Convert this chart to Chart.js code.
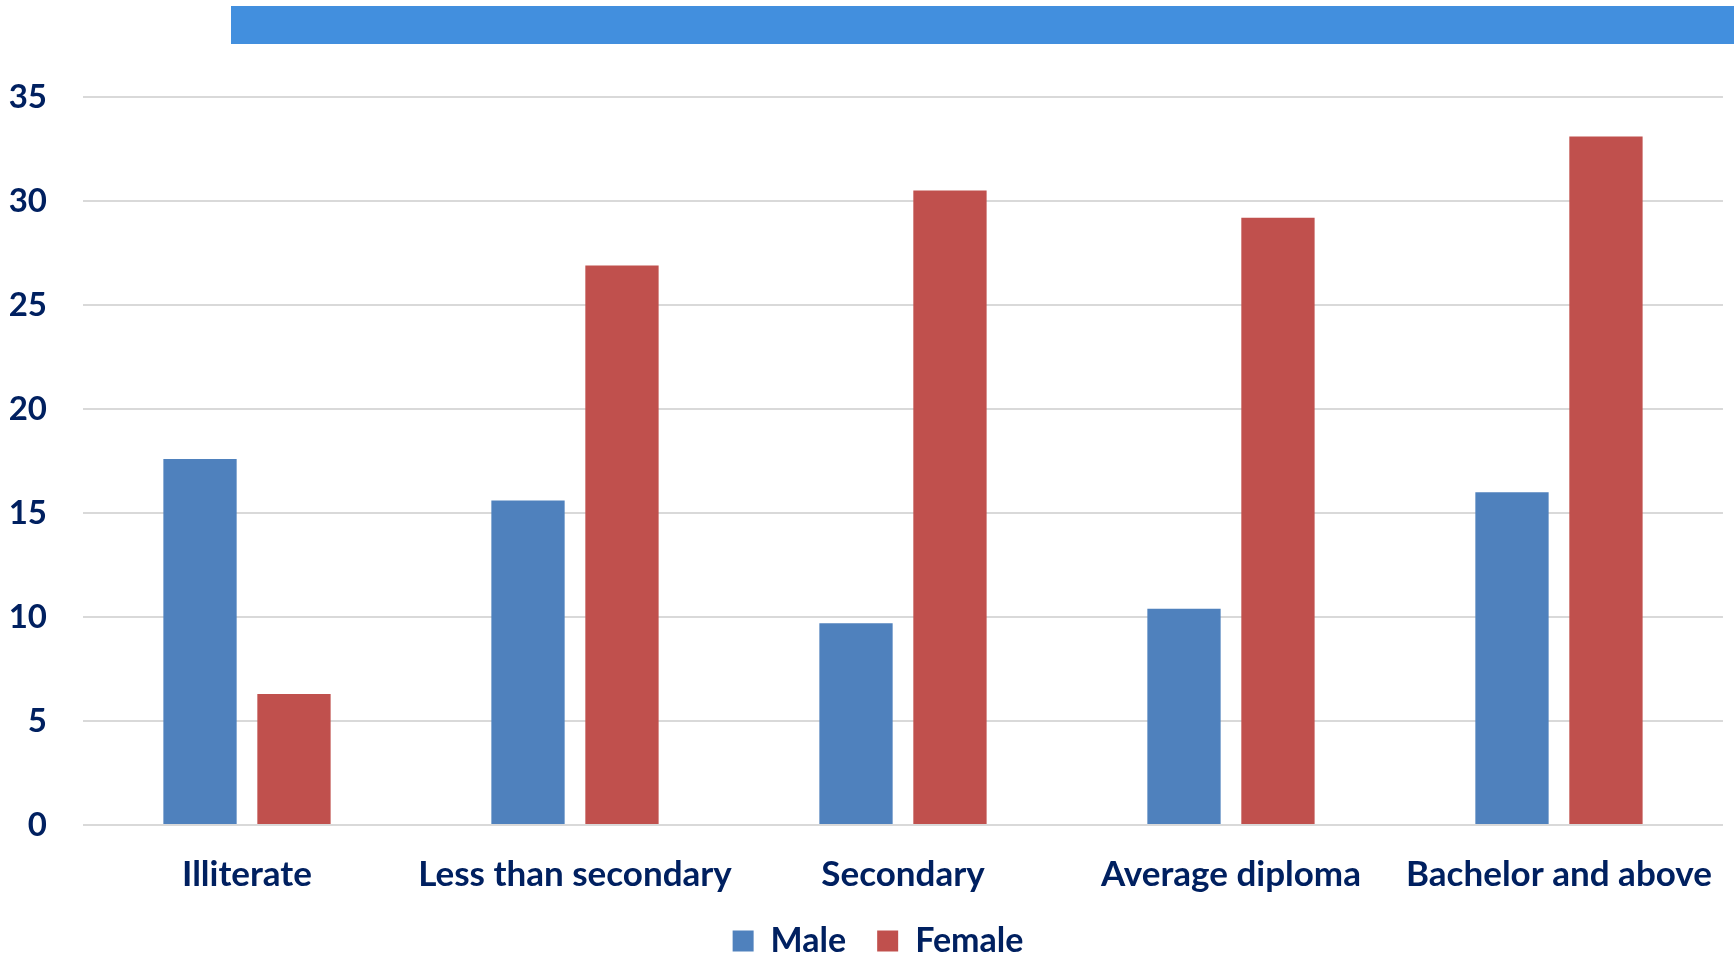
<!DOCTYPE html>
<html>
<head>
<meta charset="utf-8">
<script src="https://cdn.jsdelivr.net/npm/chart.js@4.4.1/dist/chart.umd.min.js"></script>
<style>
  body { margin: 0; background: #fff; overflow: hidden; }
  #wrap { position: relative; width: 1734px; height: 957px; overflow: hidden; }
  #topBar { position: absolute; left: 231px; top: 6px; width: 1503px; height: 38px; background: #428FDE; }
</style>
</head>
<body>
<div id="wrap">
  <canvas id="eduChart" width="1734" height="968"></canvas>
  <div id="topBar"></div>
</div>
<script>
const categories = ['Illiterate', 'Less than secondary', 'Secondary', 'Average diploma', 'Bachelor and above'];
const maleValues = [17.6, 15.6, 9.7, 10.4, 16.0];
const femaleValues = [6.3, 26.9, 30.5, 29.2, 33.1];
const yTicks = [0, 5, 10, 15, 20, 25, 30, 35];

const textColor = '#002060';
const fontFamily = 'Lato, "Open Sans", sans-serif';

// legend in the original sits a bit right of the canvas centre
const legendNudge = {
    id: 'legendNudge',
    afterLayout(chart) {
        chart.legend.left += 33;
    }
};

const ctx = document.getElementById('eduChart').getContext('2d');

const eduChart = new Chart(ctx, {
    type: 'bar',
    data: {
        labels: categories,
        datasets: [{
            label: 'Male',
            data: maleValues,
            backgroundColor: '#4F81BD',
            borderWidth: 0
        }, {
            label: 'Female',
            data: femaleValues,
            backgroundColor: '#C0504D',
            borderWidth: 0
        }]
    },
    options: {
        responsive: false,
        animation: false,
        categoryPercentage: 0.573,
        barPercentage: 0.78,
        layout: {
            padding: { top: 97, right: 11, left: 0, bottom: 0 }
        },
        plugins: {
            legend: {
                position: 'bottom',
                labels: {
                    color: textColor,
                    font: { family: fontFamily, size: 34, weight: 'bold' },
                    boxWidth: 21,
                    boxHeight: 21,
                    padding: 31
                }
            },
            tooltip: { enabled: false }
        },
        scales: {
            x: {
                grid: { display: false },
                border: { display: false },
                afterFit: (axis) => { axis.height = 68; },
                ticks: {
                    color: textColor,
                    font: { family: fontFamily, size: 35, weight: 'bold' },
                    padding: 21,
                    maxRotation: 0
                }
            },
            y: {
                min: yTicks[0],
                max: yTicks[yTicks.length - 1],
                afterBuildTicks: (axis) => { axis.ticks = yTicks.map(v => ({ value: v })); },
                afterFit: (axis) => { axis.width = 83; },
                grid: { color: '#D9D9D9', lineWidth: 2, drawTicks: false },
                border: { display: false },
                ticks: {
                    color: textColor,
                    font: { family: fontFamily, size: 33, weight: 'bold' },
                    padding: 36
                }
            }
        }
    },
    plugins: [legendNudge]
});
</script>
</body>
</html>
